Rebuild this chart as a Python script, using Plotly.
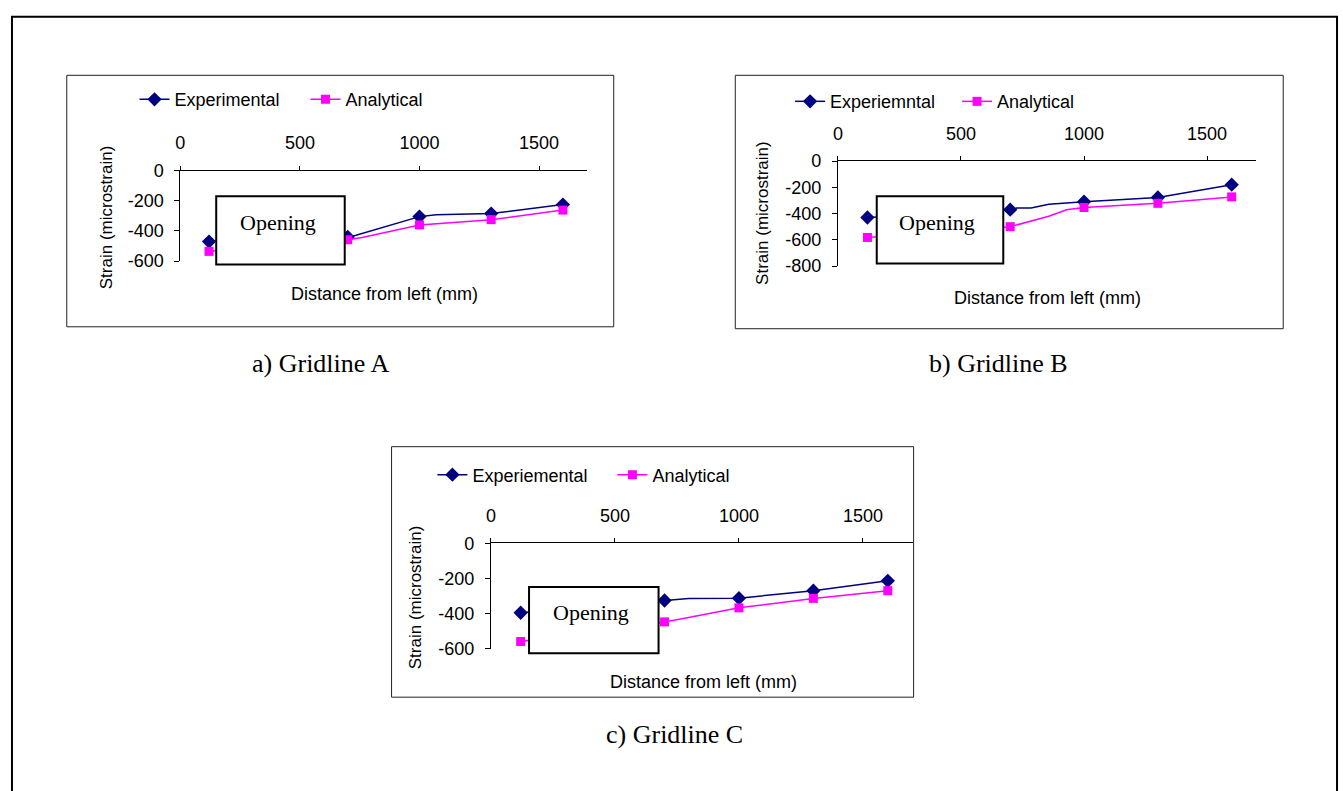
import plotly.graph_objects as go

W, H = 1343, 791

# ---------------- data ----------------
x_ticks = [0, 500, 1000, 1500]
x_tick_text = ["0", "500", "1000", "1500"]
y_ticks_600 = [0, -200, -400, -600]
y_ticks_800 = [0, -200, -400, -600, -800]

# Gridline A
a_exp_x = [120, 700, 735, 1000, 1070, 1300, 1600]
a_exp_y = [-470, -440, -428, -305, -292, -285, -225]
a_exp_marked = [1, 1, 0, 1, 0, 1, 1]
a_ana_x = [120, 700, 760, 1000, 1300, 1600]
a_ana_y = [-535, -458, -443, -360, -325, -262]
a_ana_marked = [1, 1, 0, 1, 1, 1]

# Gridline B
b_exp_x = [120, 700, 727, 785, 857, 1000, 1300, 1600]
b_exp_y = [-430, -370, -357, -357, -329, -310, -277, -180]
b_exp_marked = [1, 1, 0, 0, 0, 1, 1, 1]
b_ana_x = [120, 700, 857, 929, 1000, 1300, 1600]
b_ana_y = [-582, -500, -421, -371, -354, -322, -273]
b_ana_marked = [1, 1, 0, 0, 1, 1, 1]

# Gridline C
c_exp_x = [120, 700, 797, 1000, 1300, 1600]
c_exp_y = [-395, -325, -313, -312, -269, -213]
c_exp_marked = [1, 1, 0, 1, 1, 1]
c_ana_x = [120, 700, 797, 1000, 1300, 1600]
c_ana_y = [-559, -447, -422, -367, -313, -269]
c_ana_marked = [1, 1, 0, 1, 1, 1]

exp_names = ["Experimental", "Experiemntal", "Experiemental"]
ana_name = "Analytical"
captions = ["a) Gridline A", "b) Gridline B", "c) Gridline C"]

# ---------------- style ----------------
NAVY = "#000080"
MAG = "#FF00FF"
SANS = "Liberation Sans, Arial, sans-serif"
SERIF = "Liberation Serif, Times New Roman, serif"
EXP_SIZE = 11
ANA_SIZE = 9


def X(px):
    return px / W


def Y(py):
    return 1 - py / H


fig = go.Figure()

panels = [
    dict(exp=(a_exp_x, a_exp_y, a_exp_marked), ana=(a_ana_x, a_ana_y, a_ana_marked),
         xdom=(176, 584), ydom=(164.7, 257.7), yr=-600, yt=y_ticks_600,
         leg=(130, 92), legw=126, box=(62, 67, 611, 325), opening=(212, 191, 341, 261),
         optext=(274, 218), ytitle=(102, 213), xtitle=(381, 291), cap=(317, 363)),
    dict(exp=(b_exp_x, b_exp_y, b_exp_marked), ana=(b_ana_x, b_ana_y, b_ana_marked),
         xdom=(836, 1256), ydom=(155, 262.7), yr=-800, yt=y_ticks_800,
         leg=(788, 94), legw=122, box=(733, 67, 1283, 327), opening=(875, 191, 1002, 260),
         optext=(935, 218), ytitle=(761, 208), xtitle=(1046, 295), cap=(997, 363)),
    dict(exp=(c_exp_x, c_exp_y, c_exp_marked), ana=(c_ana_x, c_ana_y, c_ana_marked),
         xdom=(487.7, 911), ydom=(547.3, 655.3), yr=-600, yt=y_ticks_600,
         leg=(429, 477), legw=135, box=(388, 448, 912, 705), opening=(526, 592, 656, 660),
         optext=(588, 618), ytitle=(412, 602), xtitle=(701, 689), cap=(672, 743)),
]

shapes = []
annotations = []
layout_axes = {}

# outer frame
shapes.append(dict(type="rect", xref="paper", yref="paper", x0=X(7), x1=X(1337), y0=Y(7), y1=Y(805),
                   line=dict(color="black", width=2), fillcolor="rgba(0,0,0,0)", layer="below"))

for i, p in enumerate(panels):
    n = "" if i == 0 else str(i + 1)
    xa, ya = "x" + n, "y" + n
    leg = "legend" + n

    ex, ey, em = p["exp"]
    ax_, ay_, am = p["ana"]

    fig.add_trace(go.Scatter(x=ex, y=ey, mode="lines+markers", xaxis=xa, yaxis=ya,
                             line=dict(color=NAVY, width=1.5),
                             marker=dict(symbol="diamond", color=NAVY, opacity=1,
                                         line=dict(width=0),
                                         size=[EXP_SIZE if m else 0 for m in em]),
                             showlegend=False, cliponaxis=False, hoverinfo="x+y"))
    fig.add_trace(go.Scatter(x=ax_, y=ay_, mode="lines+markers", xaxis=xa, yaxis=ya,
                             line=dict(color=MAG, width=1.5),
                             marker=dict(symbol="square", color=MAG, opacity=1,
                                         line=dict(width=0),
                                         size=[ANA_SIZE if m else 0 for m in am]),
                             showlegend=False, cliponaxis=False, hoverinfo="x+y"))
    # legend entries
    fig.add_trace(go.Scatter(x=[None], y=[None], mode="lines+markers", xaxis=xa, yaxis=ya,
                             name=exp_names[i], legend=leg,
                             line=dict(color=NAVY, width=1.5),
                             marker=dict(symbol="diamond", color=NAVY, size=EXP_SIZE,
                                         opacity=1, line=dict(width=0))))
    fig.add_trace(go.Scatter(x=[None], y=[None], mode="lines+markers", xaxis=xa, yaxis=ya,
                             name=ana_name, legend=leg,
                             line=dict(color=MAG, width=1.5),
                             marker=dict(symbol="square", color=MAG, size=ANA_SIZE,
                                         opacity=1, line=dict(width=0))))

    layout_axes["xaxis" + n] = dict(
        domain=[X(p["xdom"][0]), X(p["xdom"][1])], anchor=ya, side="top",
        range=[0, 1700], tickvals=x_ticks, ticktext=x_tick_text,
        showline=True, linecolor="black", linewidth=1, ticks="outside", ticklen=4,
        tickcolor="black", showgrid=False, zeroline=False, ticklabelstandoff=9,
        tickfont=dict(family=SANS, size=18, color="black"), fixedrange=True)
    layout_axes["yaxis" + n] = dict(
        domain=[Y(p["ydom"][1]), Y(p["ydom"][0])], anchor=xa,
        range=[p["yr"], 0], tickvals=p["yt"], ticktext=[str(v) for v in p["yt"]],
        showline=True, linecolor="black", linewidth=1, ticks="outside", ticklen=5,
        tickcolor="black", showgrid=False, zeroline=False, ticklabelstandoff=7,
        tickfont=dict(family=SANS, size=18, color="black"), fixedrange=True)

    layout_axes[leg] = dict(
        x=X(p["leg"][0]), y=Y(p["leg"][1]), xanchor="left", yanchor="middle",
        orientation="h", bgcolor="rgba(0,0,0,0)", borderwidth=0,
        entrywidth=p["legw"], entrywidthmode="pixels",
        font=dict(family=SANS, size=18, color="black"), tracegroupgap=0)

    # panel frame
    bx = p["box"]
    shapes.append(dict(type="rect", xref="paper", yref="paper", x0=X(bx[0]), x1=X(bx[2]),
                       y0=Y(bx[1]), y1=Y(bx[3]), line=dict(color="#222222", width=1),
                       fillcolor="rgba(0,0,0,0)", layer="below"))
    # opening box
    ob = p["opening"]
    shapes.append(dict(type="rect", xref="paper", yref="paper", x0=X(ob[0]), x1=X(ob[2]),
                       y0=Y(ob[1]), y1=Y(ob[3]), line=dict(color="black", width=2),
                       fillcolor="white", layer="above"))
    annotations.append(dict(text="Opening", xref="paper", yref="paper",
                            x=X(p["optext"][0]), y=Y(p["optext"][1]), showarrow=False,
                            xanchor="center", yanchor="middle",
                            font=dict(family=SERIF, size=22, color="black")))
    annotations.append(dict(text="Strain (microstrain)", xref="paper", yref="paper",
                            x=X(p["ytitle"][0]), y=Y(p["ytitle"][1]), showarrow=False,
                            textangle=-90, xanchor="center", yanchor="middle",
                            font=dict(family=SANS, size=17, color="black")))
    annotations.append(dict(text="Distance from left (mm)", xref="paper", yref="paper",
                            x=X(p["xtitle"][0]), y=Y(p["xtitle"][1]), showarrow=False,
                            xanchor="center", yanchor="middle",
                            font=dict(family=SANS, size=18, color="black")))
    annotations.append(dict(text=captions[i], xref="paper", yref="paper",
                            x=X(p["cap"][0]), y=Y(p["cap"][1]), showarrow=False,
                            xanchor="center", yanchor="middle",
                            font=dict(family=SERIF, size=26, color="black")))

fig.update_layout(
    width=W, height=H, margin=dict(l=0, r=0, t=0, b=0),
    paper_bgcolor="white", plot_bgcolor="white",
    shapes=shapes, annotations=annotations, **layout_axes)

fig.write_html(
    "out.html",
    config={"displayModeBar": False},
    post_script="document.body.style.margin='0';document.body.style.padding='0';"
                "document.body.style.overflow='hidden';"
                "document.documentElement.style.overflow='hidden';",
)
